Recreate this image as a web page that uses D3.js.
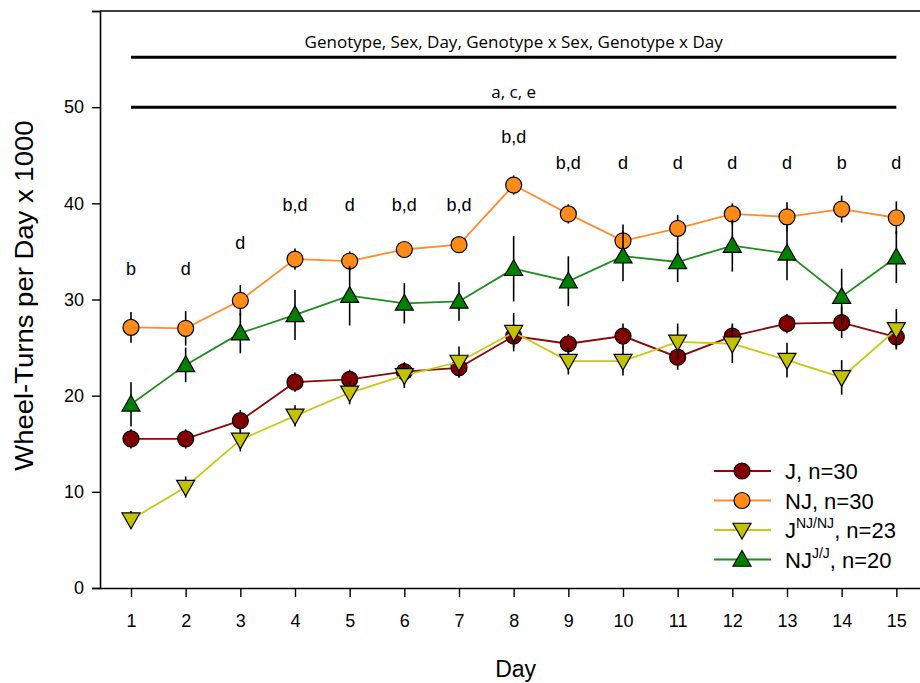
<!DOCTYPE html>
<html lang="en">
<head>
<meta charset="UTF-8">
<title>Wheel-Turns per Day</title>
<script src="https://cdnjs.cloudflare.com/ajax/libs/d3/7.8.5/d3.min.js"></script>
<style>
  body { margin: 0; background: #fff; }
  svg { display: block; font-family: "Liberation Sans", Arial, sans-serif; }
</style>
</head>
<body>
<div id="chart"></div>
<script>
// Data (mean and SE, x1000 turns)
const days = [1, 2, 3, 4, 5, 6, 7, 8, 9, 10, 11, 12, 13, 14, 15];

const jMean   = [15.5, 15.5, 17.4, 21.4, 21.7, 22.5, 22.9, 26.2, 25.4, 26.2, 24.0, 26.2, 27.5, 27.6, 26.1];
const jSE     = [1.0, 1.0, 1.1, 1.0, 1.0, 1.0, 1.0, 1.2, 1.0, 1.3, 1.3, 1.3, 1.0, 1.6, 1.2];
const njMean  = [27.1, 27.0, 29.9, 34.2, 34.0, 35.2, 35.7, 41.9, 38.9, 36.1, 37.4, 38.9, 38.6, 39.4, 38.5];
const njSE    = [1.6, 1.8, 1.6, 1.1, 1.0, 0.8, 0.8, 1.0, 1.0, 1.7, 1.4, 1.1, 1.5, 1.4, 1.7];
const jnjMean = [7.1, 10.5, 15.4, 17.9, 20.3, 22.1, 23.5, 26.6, 23.6, 23.6, 25.6, 25.4, 23.7, 21.9, 26.9];
const jnjSE   = [0.9, 1.1, 1.2, 1.1, 1.2, 1.3, 1.6, 2.0, 1.4, 1.5, 1.9, 2.0, 1.8, 1.8, 2.1];
const njjMean = [19.1, 23.2, 26.5, 28.4, 30.4, 29.6, 29.8, 33.2, 31.9, 34.5, 33.9, 35.6, 34.8, 30.3, 34.4];
const njjSE   = [2.3, 1.8, 2.1, 2.6, 3.1, 2.1, 2.0, 3.4, 2.6, 2.6, 2.1, 2.7, 2.8, 2.9, 2.7];

// post-hoc letters above each day, and the value they sit at
const dayLetters = ["b", "d", "d", "b,d", "d", "b,d", "b,d", "b,d", "b,d", "d", "d", "d", "d", "b", "d"];
const letterY    = [32.5, 32.5, 35.2, 39.2, 39.2, 39.2, 39.2, 46.3, 43.6, 43.6, 43.6, 43.6, 43.6, 43.6, 43.6];

const barLabels = ["Genotype, Sex, Day, Genotype x Sex, Genotype x Day", "a, c, e"];
const barValues = [55.2, 50];

const yTicks = [0, 10, 20, 30, 40, 50, 60];

const series = [
  { name: "J", sup: "", n: ", n=30", mean: jMean, se: jSE, line: "#8b0a0a", fill: "#800000", shape: "circle" },
  { name: "NJ", sup: "", n: ", n=30", mean: njMean, se: njSE, line: "#ff8c2e", fill: "#ff8c1a", shape: "circle" },
  { name: "J", sup: "NJ/NJ", n: ", n=23", mean: jnjMean, se: jnjSE, line: "#c8c814", fill: "#c2c200", shape: "down" },
  { name: "NJ", sup: "J/J", n: ", n=20", mean: njjMean, se: njjSE, line: "#1e8c1e", fill: "#008000", shape: "up" }
];

const width = 920, height = 683;

const svg = d3.select("#chart").append("svg")
  .attr("width", width)
  .attr("height", height);

const x = d3.scaleLinear().domain([0.433, 15.433]).range([100, 920]);
const y = d3.scaleLinear().domain([0, 60]).range([588, 11]);

// markers
function markerPath(shape) {
  if (shape === "circle") return d3.symbol().type(d3.symbolCircle).size(Math.PI * 8 * 8)();
  const s = 9;
  if (shape === "up") return `M0,${-s}L${s},${s * 0.75}L${-s},${s * 0.75}Z`;
  return `M0,${s}L${s},${-s * 0.75}L${-s},${-s * 0.75}Z`;
}

// axes
const yAxis = d3.axisLeft(y).tickValues(yTicks).tickSize(8).tickPadding(8)
  .tickFormat(d => d === 60 ? "" : d);
const gy = svg.append("g").attr("transform", "translate(100,0)").call(yAxis);
gy.select(".domain").attr("stroke-width", 1.6);
gy.selectAll(".tick line").attr("stroke-width", 1.4);
gy.selectAll("text").attr("font-size", 18).attr("fill", "#000");

const xAxis = d3.axisBottom(x).tickValues(days).tickSize(9).tickPadding(17).tickSizeOuter(0);
const gx = svg.append("g").attr("transform", "translate(0,588)").call(xAxis);
gx.select(".domain").attr("stroke-width", 1.6);
gx.selectAll(".tick line").attr("stroke-width", 1.4);
gx.selectAll("text").attr("font-size", 18).attr("fill", "#000");

// top frame
svg.append("line")
  .attr("x1", 100).attr("x2", 920)
  .attr("y1", y(60)).attr("y2", y(60))
  .attr("stroke", "#000").attr("stroke-width", 1.6);

// axis titles
svg.append("text")
  .attr("x", x(8) + 2).attr("y", 677)
  .attr("text-anchor", "middle")
  .attr("font-size", 23)
  .text("Day");

svg.append("text")
  .attr("transform", `translate(33,${y(30.4)}) rotate(-90) scale(1.1,1)`)
  .attr("text-anchor", "middle")
  .attr("font-size", 25)
  .text("Wheel-Turns per Day x 1000");

// significance bars
barValues.forEach((v, i) => {
  svg.append("line")
    .attr("x1", x(1)).attr("x2", x(15))
    .attr("y1", y(v)).attr("y2", y(v))
    .attr("stroke", "#000").attr("stroke-width", 3);
  svg.append("text")
    .attr("x", x(8)).attr("y", y(v) - 9)
    .attr("text-anchor", "middle")
    .attr("font-family", "'Open Sans', sans-serif")
    .attr("font-size", 17)
    .text(barLabels[i]);
});

// day letters
svg.append("g").selectAll("text")
  .data(days)
  .join("text")
  .attr("x", d => x(d))
  .attr("y", (d, i) => y(letterY[i]))
  .attr("text-anchor", "middle")
  .attr("font-size", 18)
  .text((d, i) => dayLetters[i]);

// series
const line = d3.line().x(d => x(d[0])).y(d => y(d[1]));

series.forEach(s => {
  const pts = days.map((d, i) => [d, s.mean[i], s.se[i]]);
  const g = svg.append("g");
  g.append("path")
    .attr("d", line(pts))
    .attr("fill", "none")
    .attr("stroke", s.line)
    .attr("stroke-width", 1.8);
  g.selectAll(".err")
    .data(pts)
    .join("line")
    .attr("x1", d => x(d[0])).attr("x2", d => x(d[0]))
    .attr("y1", d => y(d[1] - d[2])).attr("y2", d => y(d[1] + d[2]))
    .attr("stroke", "#000").attr("stroke-width", 1.6);
  g.selectAll(".mk")
    .data(pts)
    .join("path")
    .attr("d", markerPath(s.shape))
    .attr("transform", d => `translate(${x(d[0])},${y(d[1])})`)
    .attr("fill", s.fill)
    .attr("stroke", "#000")
    .attr("stroke-width", 1.2);
});

// legend
const legend = svg.append("g").attr("transform", "translate(714,471)");
series.forEach((s, i) => {
  const row = legend.append("g").attr("transform", `translate(0,${i * 29.5})`);
  row.append("line")
    .attr("x1", 0).attr("x2", 57)
    .attr("stroke", s.line).attr("stroke-width", 1.8);
  row.append("path")
    .attr("d", markerPath(s.shape))
    .attr("transform", "translate(28,0)")
    .attr("fill", s.fill)
    .attr("stroke", "#000")
    .attr("stroke-width", 1.2);
  const t = row.append("text")
    .attr("x", 71).attr("y", 8)
    .attr("font-size", 22);
  t.append("tspan").text(s.name);
  if (s.sup) {
    t.append("tspan").attr("dy", -10).attr("font-size", 14).text(s.sup);
    t.append("tspan").attr("dy", 10).text(s.n);
  } else {
    t.append("tspan").text(s.n);
  }
});
</script>
</body>
</html>
